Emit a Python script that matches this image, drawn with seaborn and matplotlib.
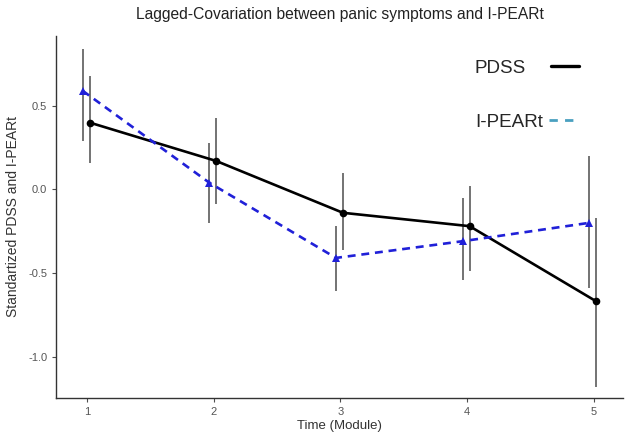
import numpy as np
import pandas as pd
import matplotlib
matplotlib.use("Agg")
import matplotlib.pyplot as plt
from matplotlib.lines import Line2D
import seaborn as sns

modules = [1, 2, 3, 4, 5]
pdss = [0.40, 0.17, -0.14, -0.22, -0.67]
pdss_lo = [0.16, -0.09, -0.36, -0.49, -1.18]
pdss_hi = [0.68, 0.43, 0.10, 0.02, -0.17]
ipeart = [0.59, 0.04, -0.41, -0.31, -0.20]
ipeart_lo = [0.29, -0.20, -0.61, -0.54, -0.59]
ipeart_hi = [0.84, 0.28, -0.22, -0.05, 0.20]
series_names = ["PDSS", "I-PEARt"]

sns.set_theme(style="ticks")
plt.rcParams["font.family"] = ["Liberation Sans", "DejaVu Sans"]

W, H = 626, 446
fig, ax = plt.subplots(figsize=(W / 100, H / 100), dpi=100)
fig.subplots_adjust(left=0.09, right=0.995, top=0.92, bottom=0.107)

offsets = {"PDSS": 0.02, "I-PEARt": -0.035}
df = pd.concat([
    pd.DataFrame({"x": np.array(modules) + offsets["PDSS"], "y": pdss,
                  "lo": pdss_lo, "hi": pdss_hi, "series": "PDSS"}),
    pd.DataFrame({"x": np.array(modules) + offsets["I-PEARt"], "y": ipeart,
                  "lo": ipeart_lo, "hi": ipeart_hi, "series": "I-PEARt"}),
])

for name in series_names:
    d = df[df.series == name]
    ax.vlines(d.x, d.lo, d.hi, color="#4d4d4d", lw=1.1, zorder=2)

sns.lineplot(data=df, x="x", y="y", hue="series", style="series",
             palette={"PDSS": "black", "I-PEARt": "#2020d8"},
             dashes={"PDSS": "", "I-PEARt": (3, 2.2)},
             markers={"PDSS": "o", "I-PEARt": "^"},
             markersize=5.5, markeredgewidth=0, lw=1.9, ax=ax, legend=False, zorder=3,
             estimator=None, sort=False)

ax.set_xlim(0.757, 5.23)
ax.set_ylim(-1.25, 0.92)
ax.set_xticks(modules)
ax.set_yticks([-1.0, -0.5, 0.0, 0.5])
ax.set_yticklabels(["-1.0", "-0.5", "0.0", "0.5"])
ax.tick_params(axis="both", labelsize=8, colors="#4d4d4d", length=3, width=0.8)
for lab in ax.get_xticklabels() + ax.get_yticklabels():
    lab.set_color("#555555")
sns.despine(ax=ax)
for s in ["left", "bottom"]:
    ax.spines[s].set_color("#333333")
    ax.spines[s].set_linewidth(1.0)

ax.set_xlabel("Time (Module)", fontsize=9.5, color="#333333", labelpad=2)
ax.set_ylabel("Standartized PDSS and I-PEARt", fontsize=10, color="#333333", labelpad=6)
ax.set_title("Lagged-Covariation between panic symptoms and I-PEARt", fontsize=11.25,
             color="#222222", pad=12)

fs = 13.6
leg1 = ax.legend([Line2D([0], [0], color="black", lw=2.4)], [series_names[0]],
                 loc="center left", bbox_to_anchor=(475 / W, 1 - 68 / H),
                 bbox_transform=fig.transFigure, frameon=False, markerfirst=False,
                 fontsize=fs, handlelength=1.5, handletextpad=1.3,
                 borderpad=0, borderaxespad=0)
ax.add_artist(leg1)
ax.legend([Line2D([0], [0], color="#4aa0c0", lw=2.0, ls=(0, (3, 2.6)))], [series_names[1]],
          loc="center left", bbox_to_anchor=(475 / W, 1 - 122 / H),
          bbox_transform=fig.transFigure, frameon=False, markerfirst=False,
          fontsize=fs, handlelength=1.35, handletextpad=0.3,
          borderpad=0, borderaxespad=0)

fig.savefig("out.png", dpi=100)
